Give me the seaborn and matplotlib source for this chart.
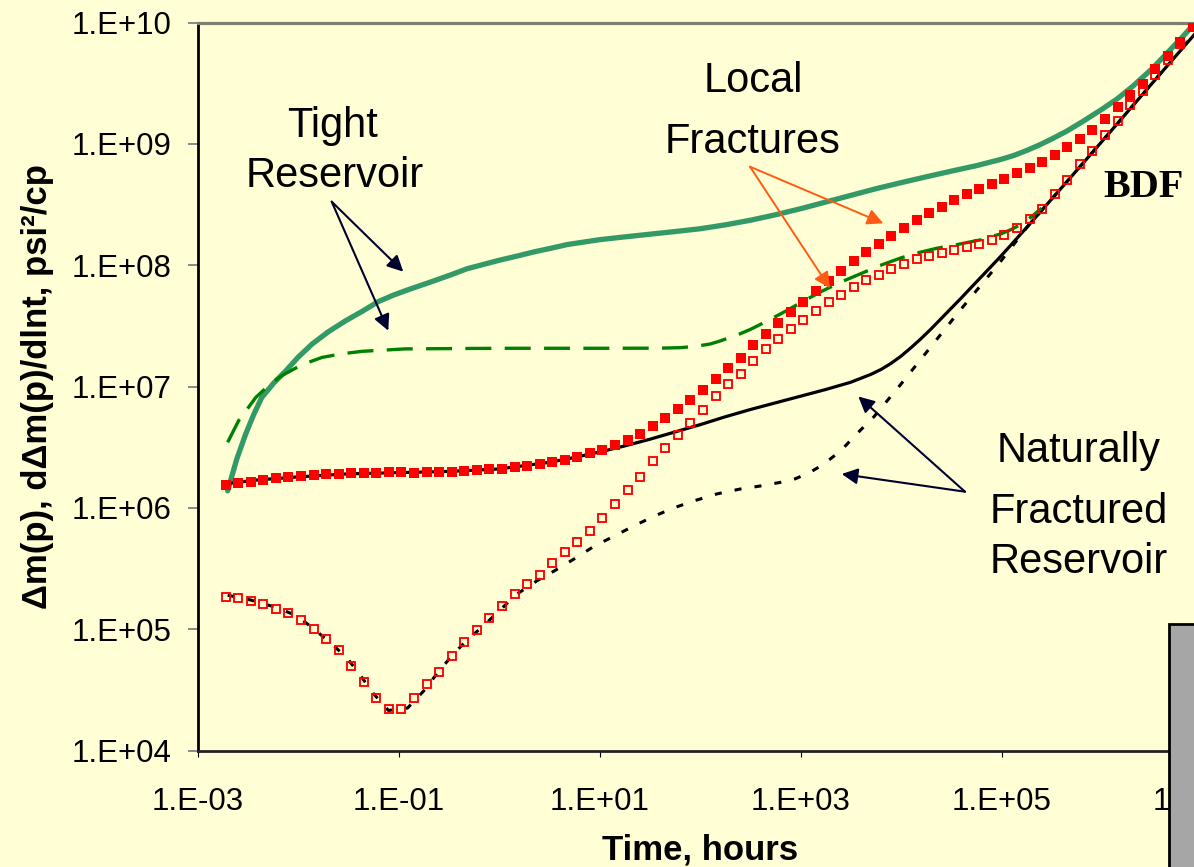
import numpy as np
import matplotlib
matplotlib.use("Agg")
import matplotlib.pyplot as plt
import seaborn as sns
from matplotlib.ticker import FixedLocator, FuncFormatter, NullLocator
from matplotlib.patches import Rectangle

# ---------------- data ----------------
# time of the marker series, hours
t_markers = [
    1.90e-3, 2.54e-3, 3.38e-3, 4.51e-3, 6.01e-3, 8.02e-3,
    1.07e-2, 1.43e-2, 1.90e-2, 2.54e-2, 3.38e-2, 4.51e-2, 6.01e-2, 8.02e-2,
    1.07e-1, 1.43e-1, 1.90e-1, 2.54e-1, 3.38e-1, 4.51e-1, 6.01e-1, 8.02e-1,
    1.07, 1.43, 1.90, 2.54, 3.38, 4.51, 6.01, 8.02,
    10.7, 14.3, 19.0, 25.4, 33.8, 45.1, 60.1, 80.2,
    107, 143, 190, 254, 338, 451, 601, 802,
    1.07e3, 1.43e3, 1.90e3, 2.54e3, 3.38e3, 4.51e3, 6.01e3, 8.02e3,
    1.07e4, 1.43e4, 1.90e4, 2.54e4, 3.38e4, 4.51e4, 6.01e4, 8.02e4,
    1.07e5, 1.43e5, 1.90e5, 2.54e5, 3.38e5, 4.51e5, 6.01e5, 8.02e5,
    1.07e6, 1.43e6, 1.90e6, 2.54e6, 3.38e6, 4.51e6, 6.01e6, 8.02e6,
]
# log10 of local-fracture delta m(p) (filled squares)
lf_dmp_log10 = [
    6.190, 6.203, 6.217, 6.231, 6.244, 6.256,
    6.264, 6.269, 6.277, 6.280, 6.285, 6.289, 6.291, 6.294,
    6.292, 6.290, 6.294, 6.294, 6.299, 6.305, 6.310, 6.316,
    6.324, 6.335, 6.346, 6.360, 6.378, 6.398, 6.423, 6.448,
    6.478, 6.516, 6.561, 6.610, 6.673, 6.742, 6.813, 6.890,
    6.973, 7.060, 7.151, 7.236, 7.338, 7.434, 7.527, 7.612,
    7.700, 7.785, 7.870, 7.948, 8.033, 8.107, 8.176, 8.244,
    8.309, 8.371, 8.430, 8.478, 8.536, 8.584, 8.629, 8.671,
    8.713, 8.758, 8.803, 8.849, 8.910, 8.973, 9.041, 9.118,
    9.206, 9.302, 9.404, 9.495, 9.618, 9.728, 9.838, 9.967,
]
# log10 of local-fracture derivative (open squares)
lf_deriv_log10 = [
    5.269, 5.258, 5.234, 5.209, 5.168, 5.131,
    5.074, 5.003, 4.921, 4.832, 4.700, 4.563, 4.431, 4.344,
    4.344, 4.431, 4.544, 4.651, 4.777, 4.892, 4.997, 5.094,
    5.195, 5.286, 5.374, 5.448, 5.544, 5.640, 5.721, 5.813,
    5.920, 6.033, 6.149, 6.252, 6.382, 6.491, 6.602, 6.703,
    6.808, 6.918, 7.022, 7.105, 7.214, 7.305, 7.390, 7.470,
    7.546, 7.624, 7.695, 7.756, 7.824, 7.879, 7.923, 7.970,
    8.011, 8.048, 8.077, 8.102, 8.127, 8.148, 8.176, 8.206,
    8.250, 8.308, 8.382, 8.465, 8.588, 8.704, 8.830, 8.945,
    9.069, 9.192, 9.322, 9.434, 9.571, 9.693, 9.824, 9.961,
]
# tight reservoir delta m(p) (solid teal): log10 time, log10 value
tight_dmp_logt = [-2.70, -2.61, -2.52, -2.44, -2.36, -2.24, -2.12, -2.00, -1.86, -1.70,
                  -1.53, -1.36, -1.20, -1.06, -0.93, -0.79, -0.65, -0.48, -0.32, -0.16,
                  0.00, 0.18, 0.35, 0.52, 0.68, 0.84, 1.00, 1.25, 1.50, 1.75,
                  2.00, 2.25, 2.50, 2.75, 3.00, 3.25, 3.50, 3.75, 4.00, 4.25,
                  4.50, 4.75, 5.00, 5.125, 5.25, 5.375, 5.50, 5.65, 5.80, 6.00,
                  6.15, 6.30, 6.50, 6.65, 6.80, 6.95]
tight_dmp_logy = [6.14, 6.40, 6.61, 6.77, 6.91, 7.03, 7.13, 7.24, 7.35, 7.45,
                  7.54, 7.62, 7.70, 7.75, 7.79, 7.83, 7.87, 7.92, 7.97, 8.005,
                  8.04, 8.075, 8.11, 8.14, 8.17, 8.19, 8.21, 8.233, 8.255, 8.277,
                  8.30, 8.332, 8.37, 8.415, 8.465, 8.52, 8.575, 8.63, 8.68, 8.728,
                  8.775, 8.82, 8.873, 8.905, 8.945, 8.99, 9.04, 9.105, 9.18, 9.285,
                  9.37, 9.47, 9.62, 9.75, 9.88, 10.02]
# tight reservoir derivative (green dashed)
tight_der_logt = [-2.70, -2.645, -2.59, -2.50, -2.42, -2.29, -2.16, -1.96, -1.76, -1.56,
                  -1.36, -0.93, 0.00, 1.00, 1.60, 1.80, 1.95, 2.10, 2.20, 2.30,
                  2.40, 2.50, 2.67, 2.85, 3.00, 3.20, 3.40, 3.60, 3.80, 4.00,
                  4.16, 4.36, 4.56, 4.80, 5.00, 5.10, 5.20, 5.30, 5.40]
tight_der_logy = [6.54, 6.63, 6.72, 6.82, 6.91, 7.01, 7.09, 7.18, 7.24, 7.27,
                  7.29, 7.31, 7.315, 7.315, 7.316, 7.32, 7.33, 7.35, 7.375, 7.405,
                  7.435, 7.47, 7.54, 7.62, 7.69, 7.78, 7.86, 7.93, 8.00, 8.06,
                  8.10, 8.14, 8.17, 8.21, 8.26, 8.295, 8.34, 8.40, 8.47]
# naturally fractured delta m(p) (black solid)
nf_dmp_logt = [-2.70, -2.40, -2.00, -1.50, -1.00, -0.50, 0.00, 0.50, 0.75, 1.00,
               1.25, 1.50, 1.75, 2.00, 2.25, 2.50, 2.75, 3.00, 3.25, 3.50,
               3.70, 3.80, 3.90, 4.00, 4.10, 4.20, 4.30, 4.40, 4.50, 4.60,
               4.70, 4.80, 4.90, 5.00, 5.25, 5.60, 6.00, 6.50, 6.95, 7.00]
nf_dmp_logy = [6.20, 6.23, 6.255, 6.28, 6.29, 6.30, 6.32, 6.375, 6.415, 6.46,
               6.51, 6.565, 6.625, 6.685, 6.75, 6.81, 6.865, 6.92, 6.975, 7.035,
               7.10, 7.14, 7.19, 7.25, 7.32, 7.395, 7.475, 7.56, 7.645, 7.73,
               7.818, 7.905, 7.992, 8.08, 8.31, 8.64, 9.02, 9.50, 9.93, 9.98]
# naturally fractured derivative (black dotted)
nf_der_logt = [-2.70, -2.47, -2.22, -2.01, -1.84, -1.68, -1.51, -1.38, -1.25, -1.10,
               -0.91, -0.75, -0.62, -0.47, -0.32, -0.15, 0.00, 0.18, 0.38, 0.55,
               0.75, 0.94, 1.14, 1.34, 1.54, 1.74, 1.95, 2.17, 2.40, 2.60,
               2.80, 2.95, 3.10, 3.23, 3.40, 3.56, 3.73, 4.00, 4.29, 4.56,
               4.86, 5.00, 5.27, 5.60, 6.00, 6.50, 6.95]
nf_der_logy = [5.28, 5.24, 5.18, 5.11, 5.00, 4.89, 4.76, 4.62, 4.47, 4.33,
               4.35, 4.49, 4.63, 4.78, 4.91, 5.03, 5.15, 5.29, 5.40, 5.48,
               5.58, 5.68, 5.765, 5.85, 5.93, 6.00, 6.06, 6.115, 6.155, 6.18,
               6.21, 6.24, 6.295, 6.36, 6.47, 6.61, 6.75, 7.02, 7.32, 7.60,
               7.90, 8.04, 8.33, 8.64, 9.02, 9.50, 9.94]

x_ticks = [1e-3, 1e-1, 1e1, 1e3, 1e5, 1e7]
y_ticks = [1e4, 1e5, 1e6, 1e7, 1e8, 1e9, 1e10]

# ---------------- style ----------------
BG = "#FFFED5"
TEAL = "#339966"
DGREEN = "#008000"
RED = "#FF0000"
NAVY = "#00002E"
ORANGE = "#FF5B14"

sns.set_theme(style="ticks")
plt.rcParams["font.family"] = ["Liberation Sans", "DejaVu Sans"]

W, H = 1194, 867
fig = plt.figure(figsize=(W / 100, H / 100), dpi=100, facecolor=BG)
ax_l, ax_r, ax_t, ax_b = 197.5, 1202.5, 22.5, 750.5
ax = fig.add_axes([ax_l / W, (H - ax_b) / H, (ax_r - ax_l) / W, (ax_b - ax_t) / H])
ax.set_facecolor(BG)
ax.set_xscale("log")
ax.set_yscale("log")
ax.set_xlim(1e-3, 1e7)
ax.set_ylim(1e4, 1e10)


def pw(a):
    return 10 ** np.asarray(a, dtype=float)


sns.lineplot(x=pw(tight_dmp_logt), y=pw(tight_dmp_logy), ax=ax, color=TEAL,
             linewidth=3.8, sort=False, estimator=None, zorder=2)
sns.lineplot(x=pw(nf_dmp_logt), y=pw(nf_dmp_logy), ax=ax, color="black",
             linewidth=2.3, sort=False, estimator=None, zorder=2.5)
sns.lineplot(x=pw(nf_der_logt), y=pw(nf_der_logy), ax=ax, color="black",
             linewidth=2.2, linestyle=(0, (2.3, 4.3)), sort=False, estimator=None, zorder=2.5)
sns.lineplot(x=pw(tight_der_logt), y=pw(tight_der_logy), ax=ax, color=DGREEN,
             linewidth=2.4, linestyle=(0, (7.8, 4.0)), sort=False, estimator=None, zorder=3)
sns.lineplot(x=t_markers, y=pw(lf_deriv_log10), ax=ax, color=RED, linestyle="none",
             marker="s", markersize=6.1, markerfacecolor="none", markeredgecolor=RED,
             markeredgewidth=1.35, sort=False, estimator=None, zorder=4)
sns.lineplot(x=t_markers, y=pw(lf_dmp_log10), ax=ax, color=RED, linestyle="none",
             marker="s", markersize=7.7, markerfacecolor=RED, markeredgecolor=RED,
             markeredgewidth=0, sort=False, estimator=None, zorder=4)

# ticks
ax.xaxis.set_major_locator(FixedLocator(x_ticks))
ax.yaxis.set_major_locator(FixedLocator(y_ticks))
ax.xaxis.set_minor_locator(NullLocator())
ax.yaxis.set_minor_locator(NullLocator())
fmt = FuncFormatter(lambda v, p: "1.E{:+03d}".format(int(round(np.log10(v)))))
ax.xaxis.set_major_formatter(fmt)
ax.yaxis.set_major_formatter(fmt)
ax.tick_params(axis="y", direction="out", length=7.2, width=1.3, color="#808080",
               pad=11.5, labelsize=22.5, labelcolor="black")
ax.tick_params(axis="x", direction="out", length=4.5, width=0.8, color="black",
               pad=22, labelsize=22.5, labelcolor="black")
ax.grid(False)

ax.spines["left"].set_color("black")
ax.spines["left"].set_linewidth(2.0)
ax.spines["bottom"].set_color("#222222")
ax.spines["bottom"].set_linewidth(2.0)
ax.spines["top"].set_color("#7F7F72")
ax.spines["top"].set_linewidth(2.3)
ax.spines["right"].set_visible(False)

ax.set_xlabel("Time, hours", fontsize=25, fontweight="bold", color="black")
ax.xaxis.set_label_coords(0.5, -0.1134)
ax.set_ylabel("Δm(p), dΔm(p)/dlnt, psi²/cp", fontsize=25, fontweight="bold", color="black")
ax.yaxis.set_label_coords(-0.143, 0.5)


def P(px, py):
    return ((px - ax_l) / (ax_r - ax_l), (ax_b - py) / (ax_b - ax_t))


def label(px, py, s, **kw):
    kw.setdefault("fontsize", 30)
    ax.text(*P(px, py), s, transform=ax.transAxes, ha="center", va="baseline",
            color="black", zorder=6, clip_on=False, **kw)


label(333, 136.7, "Tight")
label(335, 186.7, "Reservoir")
label(753, 91.7, "Local")
label(753, 152.7, "Fractures")
label(1079, 461.7, "Naturally")
label(1079, 523, "Fractured")
label(1079, 573, "Reservoir")
label(1144, 197.3, "BDF", fontsize=29, fontweight="bold", family="Liberation Serif")


def arrow(o, tip, color, lw):
    ax.annotate("", xy=P(*tip), xytext=P(*o), xycoords="axes fraction",
                textcoords="axes fraction", zorder=6,
                arrowprops=dict(arrowstyle="-|>", color=color, lw=lw,
                                mutation_scale=24, shrinkA=0, shrinkB=0))


arrow((331.7, 201.7), (403.3, 271.7), NAVY, 1.5)
arrow((331.7, 201.7), (388.3, 330.7), NAVY, 1.5)
arrow((750, 166.7), (883.3, 223.3), ORANGE, 1.4)
arrow((750, 166.7), (830, 288.3), ORANGE, 1.4)
arrow((965, 491.7), (858.3, 396.5), NAVY, 1.5)
arrow((965, 491.7), (841.7, 474), NAVY, 1.5)

# grey box in the lower-right corner
fig.add_artist(Rectangle((1168.5 / W, -0.05), 0.2, (H - 623.5) / H + 0.05,
                         transform=fig.transFigure, facecolor="#A6A6A6",
                         edgecolor="black", linewidth=2, zorder=10))

fig.savefig("out.png", dpi=100, facecolor=BG)
